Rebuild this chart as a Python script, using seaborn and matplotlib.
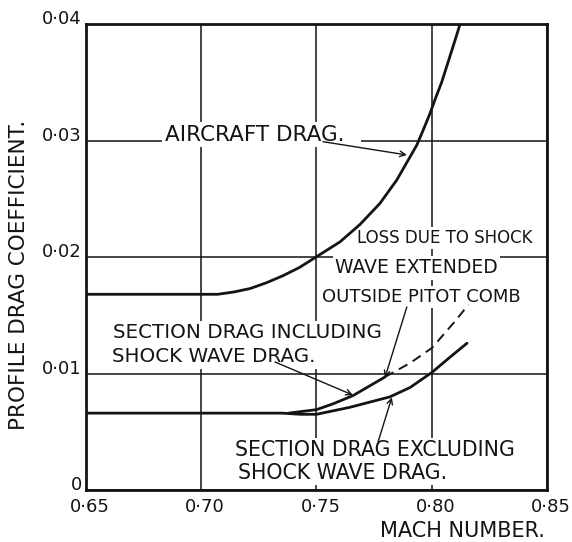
import matplotlib
matplotlib.use("Agg")
import matplotlib.pyplot as plt
import matplotlib.transforms as mtransforms
import seaborn as sns
import pandas as pd

# Profile drag coefficient against Mach number
aircraft_mach = [0.650, 0.700, 0.7071, 0.7142, 0.7213, 0.7284, 0.7355, 0.7426,
                 0.7498, 0.7602, 0.7689, 0.7775, 0.7848, 0.7906, 0.7935,
                 0.7963, 0.7992, 0.8014, 0.8043, 0.8072, 0.8101, 0.8123]
aircraft_cd = [0.0168, 0.0168, 0.0168, 0.0170, 0.0173, 0.0178, 0.0184, 0.0191,
               0.0200, 0.0213, 0.0228, 0.0246, 0.0266, 0.0286, 0.0296,
               0.0309, 0.0323, 0.0335, 0.0350, 0.0368, 0.0386, 0.0400]

excl_mach = [0.650, 0.700, 0.735, 0.743, 0.750, 0.7645, 0.7819, 0.7906,
             0.8001, 0.8079, 0.8153]
excl_cd = [0.0066, 0.0066, 0.0066, 0.0065, 0.0065, 0.0071, 0.0080, 0.0088,
           0.0101, 0.0114, 0.0126]

incl_mach = [0.738, 0.750, 0.7572, 0.7658, 0.7797]
incl_cd = [0.0066, 0.0069, 0.0074, 0.0081, 0.0097]

loss_mach = [0.7797, 0.7906, 0.8001, 0.8093, 0.8159]
loss_cd = [0.0097, 0.0109, 0.0122, 0.0143, 0.0159]

x_ticks = [0.65, 0.70, 0.75, 0.80, 0.85]
x_tick_labels = ["0·65", "0·70", "0·75", "0·80", "0·85"]
y_ticks = [0.0, 0.01, 0.02, 0.03, 0.04]
y_tick_labels = ["0", "0·01", "0·02", "0·03", "0·04"]

sns.set_theme(style="white")
plt.rcParams["font.family"] = ["DejaVu Sans"]

INK = "#141414"

fig = plt.figure(figsize=(5.72, 5.42), dpi=100)
ax = fig.add_axes([0.1503, 0.0959, 0.806, 0.8598])

for xs, ys in [(aircraft_mach, aircraft_cd), (excl_mach, excl_cd),
               (incl_mach, incl_cd)]:
    sns.lineplot(x=xs, y=ys, ax=ax, color=INK, lw=2.0, sort=False,
                 estimator=None, zorder=5)

loss_df = pd.DataFrame({"mach": loss_mach, "cd": loss_cd})
sns.lineplot(data=loss_df, x="mach", y="cd", ax=ax, color=INK, lw=1.4,
             sort=False, estimator=None, zorder=5)
ax.lines[-1].set_dashes((5, 3.2))

ax.set_xlim(0.65, 0.85)
ax.set_ylim(0.0, 0.04)
ax.set_xticks(x_ticks, x_tick_labels)
ax.set_yticks(y_ticks, y_tick_labels)
ax.tick_params(length=0, labelsize=13, colors=INK)
ax.tick_params(axis="x", pad=6)
ax.tick_params(axis="y", pad=3)
for lab in ax.get_yticklabels():
    lab.set_verticalalignment("baseline")
shift = mtransforms.ScaledTranslation(0.04, 0, fig.dpi_scale_trans)
for lab in ax.get_xticklabels():
    lab.set_transform(lab.get_transform() + shift)

ax.set_axisbelow(True)
ax.grid(True, color=INK, lw=1.1)
for sp in ax.spines.values():
    sp.set_color(INK)
    sp.set_linewidth(2.0)
    sp.set_visible(True)

ax.set_ylabel("PROFILE DRAG COEFFICIENT.", fontsize=15.5, color=INK)
ax.yaxis.set_label_coords(-0.124, 0.461)
ax.set_xlabel("MACH NUMBER.", fontsize=15, color=INK, ha="right")
ax.xaxis.set_label_coords(0.996, -0.066)

box = dict(boxstyle="square,pad=0.12", fc="white", ec="none")

def label(x, y, s, size, va="center"):
    ax.text(x, y, s, fontsize=size, color=INK, ha="left", va=va,
            bbox=box, zorder=3)

def pointer(x0, y0, x1, y1):
    ax.annotate("", xy=(x1, y1), xytext=(x0, y0), zorder=6,
                arrowprops=dict(arrowstyle="->", color=INK, lw=1.0,
                                shrinkA=0, shrinkB=0, mutation_scale=10))

label(0.6843, 0.0300, "AIRCRAFT DRAG.  ", 15.5, va="baseline")
pointer(0.7528, 0.0299, 0.7892, 0.02876)

label(0.7675, 0.02163, "LOSS DUE TO SHOCK", 12)
label(0.7580, 0.01906, "WAVE EXTENDED", 13.5)
label(0.7523, 0.01657, "OUTSIDE PITOT COMB", 13)
pointer(0.7892, 0.01571, 0.7797, 0.00965)

label(0.6617, 0.01348, "SECTION DRAG INCLUDING", 14.3)
label(0.6613, 0.01142, "SHOCK WAVE DRAG.", 14.3)
pointer(0.7320, 0.01099, 0.7658, 0.00815)

label(0.7146, 0.00343, "SECTION DRAG EXCLUDING", 14.8)
label(0.7160, 0.00146, "SHOCK WAVE DRAG.", 14.8)
pointer(0.7767, 0.00412, 0.7827, 0.00795)

fig.savefig("out.png", dpi=100, facecolor="white")
